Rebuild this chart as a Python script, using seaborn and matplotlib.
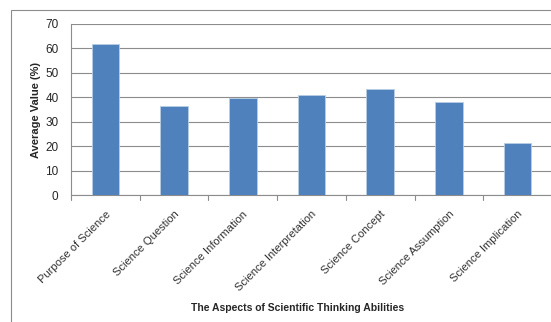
import numpy as np
import pandas as pd
import seaborn as sns
import matplotlib
matplotlib.use("Agg")
from matplotlib import pyplot as plt
from matplotlib.patches import Rectangle

# aspects and average values (%)
aspects = ["Purpose of Science", "Science Question", "Science Information",
           "Science Interpretation", "Science Concept", "Science Assumption",
           "Science Implication"]
values = [62, 36.6, 39.9, 40.8, 43.3, 38.3, 21.3]
y_ticks = [0, 10, 20, 30, 40, 50, 60, 70]

df = pd.DataFrame({"Aspect": aspects, "Value": values})

sns.set_style("white")
plt.rcParams["font.family"] = ["Liberation Sans", "DejaVu Sans"]

fig = plt.figure(figsize=(5.51, 3.22), dpi=100)
W, H = 551, 322
ax = fig.add_axes([71 / W, 1 - 195.3 / H, (552 - 71) / W, (195.3 - 24) / H])

sns.barplot(data=df, x="Aspect", y="Value", color="#4F81BD", width=0.4,
            edgecolor="#B9CDE5", linewidth=0.6, saturation=1, ax=ax, zorder=3)

ax.set_xlim(-0.5, len(aspects) - 0.5)
ax.set_ylim(0, 70)
ax.set_yticks(y_ticks)
ax.yaxis.grid(True, color="#8C8C8C", linewidth=0.8, zorder=0)
ax.set_axisbelow(True)

# tick marks between categories, labels under bar centres
ax.set_xticks(np.arange(len(aspects)))
ax.set_xticklabels(aspects, rotation=45, ha="right", rotation_mode="anchor",
                   fontsize=8, color="#333333")
ax.tick_params(axis="x", length=0, pad=10)
for b in np.arange(len(aspects) + 1) - 0.5:
    ax.plot([b, b], [0, -1.8], color="#8C8C8C", lw=0.8, clip_on=False)
ax.tick_params(axis="y", length=4, color="#8C8C8C", width=0.8, labelsize=8.5, pad=5)

for s in ["top", "right"]:
    ax.spines[s].set_visible(False)
for s in ["left", "bottom"]:
    ax.spines[s].set_color("#8C8C8C")
    ax.spines[s].set_linewidth(0.8)

ax.set_xlabel("")
ax.set_ylabel("Average Value (%)", fontsize=8, fontweight="bold", labelpad=3)
fig.text(298 / W, 1 - 308 / H, "The Aspects of Scientific Thinking Abilities",
         ha="center", va="center", fontsize=7.5, fontweight="bold")

# outer chart border
fig.patches.append(Rectangle((11 / W, -0.05), 1.1, 1 - 10 / H + 0.05,
                             transform=fig.transFigure, fill=False,
                             edgecolor="#8C8C8C", linewidth=0.8))

fig.savefig("out.png", dpi=100)
